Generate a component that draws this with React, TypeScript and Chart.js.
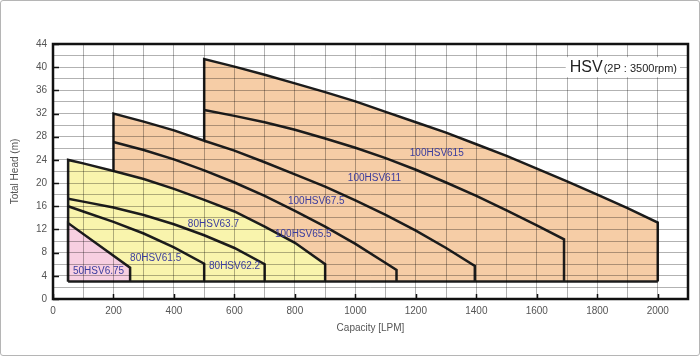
import React, { useEffect, useRef } from 'react';
import { Chart, registerables } from 'chart.js';

Chart.register(...registerables);

// ---- axis tick labels ----
const xTickLabels = ['0', '200', '400', '600', '800', '1000', '1200', '1400', '1600', '1800', '2000'];
const yTickLabels = ['0', '4', '8', '12', '16', '20', '24', '28', '32', '36', '40', '44'];

// ---- lowest head of every operating range (m) ----
const minHead = 3;

// ---- performance curves: capacity (LPM) / head (m) ----
const q615 = [500, 600, 700, 800, 900, 1000, 1100, 1200, 1300, 1400, 1500, 1600, 1700, 1800, 1900, 2000];
const h615 = [41.4, 40.1, 38.7, 37.2, 35.7, 34.1, 32.3, 30.5, 28.7, 26.7, 24.7, 22.5, 20.3, 18.0, 15.7, 13.2];

const q611 = [500, 600, 700, 800, 900, 1000, 1100, 1200, 1300, 1400, 1500, 1600, 1690];
const h611 = [32.6, 31.6, 30.5, 29.2, 27.7, 26.1, 24.3, 22.3, 20.1, 17.8, 15.3, 12.7, 10.3];

const q675 = [200, 300, 400, 500, 600, 700, 800, 900, 1000, 1100, 1200, 1300, 1395];
const h675 = [32.0, 30.6, 29.1, 27.3, 25.6, 23.6, 21.5, 19.4, 17.0, 14.5, 11.8, 8.8, 5.7];

const q655 = [200, 300, 400, 500, 600, 700, 800, 900, 1000, 1100, 1136];
const h655 = [27.1, 25.7, 24.1, 22.2, 20.1, 17.8, 15.2, 12.5, 9.5, 6.2, 5.0];

const q637 = [50, 100, 200, 300, 400, 500, 600, 700, 800, 900];
const h637 = [24.0, 23.4, 22.1, 20.7, 19.0, 17.1, 15.1, 12.5, 9.7, 6.0];

const q622 = [50, 100, 200, 300, 400, 500, 600, 700];
const h622 = [17.3, 16.8, 15.8, 14.5, 12.9, 11.0, 8.8, 6.0];

const q615s = [50, 100, 200, 300, 400, 500];
const h615s = [16.0, 15.1, 13.3, 11.3, 8.9, 6.1];

const q675s = [50, 255];
const h675s = [13.1, 5.4];

// ---- curve names and where their labels sit (capacity, head) ----
const labelNames = ['50HSV6.75', '80HSV61.5', '80HSV62.2', '80HSV63.7', '100HSV65.5', '100HSV67.5', '100HSV611', '100HSV615'];
const labelQ = [66, 255, 516, 446, 734, 777, 975, 1180];
const labelH = [4.8, 7.0, 5.6, 12.9, 11.1, 16.9, 20.9, 25.2];

const pts = (q: number[], h: number[]) => q.map((x, i) => ({ x, y: h[i] }));

const LINE = '#1c1c1c';
const ORANGE = '#f6cda6';
const YELLOW = '#f9f4ad';
const PINK = '#f7cfe1';
const LABEL = '#3a3c9e';
const TEXT = '#555555';
const FONT = '"Liberation Sans", Arial, sans-serif';

function buildDatasets() {
  const orange = [
    { x: q675[0], y: minHead },
    ...pts(q675, h675).filter((p) => p.x <= q615[0]),
    ...pts(q615, h615),
    { x: q615[q615.length - 1], y: minHead },
  ];
  const yellow = [
    { x: q637[0], y: minHead },
    ...pts(q637, h637),
    { x: q637[q637.length - 1], y: minHead },
  ];
  const pink = [
    { x: q675s[0], y: minHead },
    ...pts(q675s, h675s),
    { x: q675s[q675s.length - 1], y: minHead },
  ];
  const withDrop = (q: number[], h: number[]) => [...pts(q, h), { x: q[q.length - 1], y: minHead }];
  const base = {
    showLine: true,
    pointRadius: 0,
    borderColor: LINE,
    borderWidth: 2.5,
    borderJoinStyle: 'miter' as const,
    tension: 0,
  };
  return [
    { ...base, label: 'base', data: [{ x: q637[0], y: minHead }, { x: q615[q615.length - 1], y: minHead }], fill: false, order: 1 },
    { ...base, label: '100HSV611', data: withDrop(q611, h611), fill: false, order: 2 },
    { ...base, label: '100HSV67.5', data: withDrop(q675.filter((x) => x >= q615[0]), h675.filter((_, i) => q675[i] >= q615[0])), fill: false, order: 2 },
    { ...base, label: '100HSV65.5', data: withDrop(q655, h655), fill: false, order: 2 },
    { ...base, label: '80HSV62.2', data: withDrop(q622, h622), fill: false, order: 2 },
    { ...base, label: '80HSV61.5', data: withDrop(q615s, h615s), fill: false, order: 2 },
    { ...base, label: '50HSV6.75', data: pink, fill: { value: minHead }, backgroundColor: PINK, order: 3 },
    { ...base, label: '80HSV63.7', data: yellow, fill: { value: minHead }, backgroundColor: YELLOW, order: 4 },
    { ...base, label: '100HSV615', data: orange, fill: { value: minHead }, backgroundColor: ORANGE, order: 5 },
  ];
}

const overlayPlugin = {
  id: 'overlay',
  afterDraw(chart: any) {
    const { ctx, chartArea: a, scales } = chart;
    const xs = scales.x;
    const ys = scales.y;
    ctx.save();
    // inner tick marks
    ctx.strokeStyle = '#111';
    ctx.lineWidth = 1.5;
    ctx.beginPath();
    xTickLabels.forEach((t) => {
      const px = Math.round(xs.getPixelForValue(Number(t))) + 0.5;
      ctx.moveTo(px, a.bottom);
      ctx.lineTo(px, a.bottom - 5);
    });
    yTickLabels.forEach((t) => {
      const py = Math.round(ys.getPixelForValue(Number(t))) + 0.5;
      ctx.moveTo(a.left, py);
      ctx.lineTo(a.left + 6, py);
    });
    ctx.stroke();
    // frame
    ctx.lineWidth = 2.5;
    ctx.strokeStyle = '#111';
    ctx.strokeRect(a.left, a.top, a.right - a.left, a.bottom - a.top);

    // curve labels
    ctx.fillStyle = LABEL;
    ctx.font = `10px ${FONT}`;
    ctx.textAlign = 'left';
    ctx.textBaseline = 'middle';
    labelNames.forEach((n, i) => {
      ctx.fillText(n, xs.getPixelForValue(labelQ[i]), ys.getPixelForValue(labelH[i]));
    });

    // title
    const big = 'HSV';
    const small = '(2P : 3500rpm)';
    ctx.font = `16px ${FONT}`;
    const wb = ctx.measureText(big).width;
    ctx.font = `11px ${FONT}`;
    const ws = ctx.measureText(small).width;
    const xr = a.right - 12;
    const base = ys.getPixelForValue(40) + 5;
    const x0 = xr - ws - wb;
    ctx.fillStyle = '#ffffff';
    ctx.fillRect(x0 - 4, base - 15, wb + ws + 8, 20);
    ctx.fillStyle = '#222';
    ctx.textBaseline = 'alphabetic';
    ctx.font = `16px ${FONT}`;
    ctx.fillText(big, x0, base);
    ctx.font = `11px ${FONT}`;
    ctx.fillText(small, x0 + wb + 1, base);
    ctx.restore();
  },
};

export default function App() {
  const ref = useRef<HTMLCanvasElement>(null);
  useEffect(() => {
    document.body.style.margin = '0';
    Chart.defaults.font.family = FONT;
    const chart = new Chart(ref.current as HTMLCanvasElement, {
      type: 'scatter',
      data: { datasets: buildDatasets() as any },
      options: {
        animation: false,
        responsive: false,
        events: [],
        layout: { padding: { left: 0, top: 44, right: 12, bottom: 0 } },
        plugins: { legend: { display: false }, tooltip: { enabled: false } },
        scales: {
          x: {
            type: 'linear',
            min: 0,
            max: 2100,
            afterFit: (s: any) => { s.height = 57; },
            grid: { color: 'rgba(0,0,0,0.3)', lineWidth: 1, drawTicks: false, z: 1 },
            border: { display: false },
            ticks: {
              stepSize: 100,
              autoSkip: false,
              maxRotation: 0,
              padding: 6,
              color: TEXT,
              font: { size: 10 },
              callback: (v: any) => (xTickLabels.includes(String(v)) ? String(v) : ''),
            },
            title: { display: true, text: 'Capacity [LPM]', color: TEXT, font: { size: 10 }, padding: { top: 0, bottom: 22 } },
          },
          y: {
            type: 'linear',
            min: 0,
            max: 44,
            afterFit: (s: any) => { s.width = 53; },
            grid: { color: 'rgba(0,0,0,0.3)', lineWidth: 1, drawTicks: false, z: 1 },
            border: { display: false },
            ticks: {
              stepSize: 2,
              autoSkip: false,
              padding: 6,
              color: TEXT,
              font: { size: 10 },
              callback: (v: any) => (yTickLabels.includes(String(v)) ? String(v) : ''),
            },
            title: { display: true, text: 'Total Head (m)', color: TEXT, font: { size: 10 }, padding: { top: 9, bottom: 0 } },
          },
        },
      },
      plugins: [overlayPlugin],
    } as any);
    return () => chart.destroy();
  }, []);
  return (
    <div style={{ position: 'relative', width: 700, height: 356 }}>
      <canvas ref={ref} width={700} height={356} style={{ display: 'block' }} />
      <div
        style={{
          position: 'absolute',
          inset: 0,
          border: '1px solid #b5b5b5',
          borderRadius: 3,
          boxSizing: 'border-box',
          pointerEvents: 'none',
        }}
      />
    </div>
  );
}
